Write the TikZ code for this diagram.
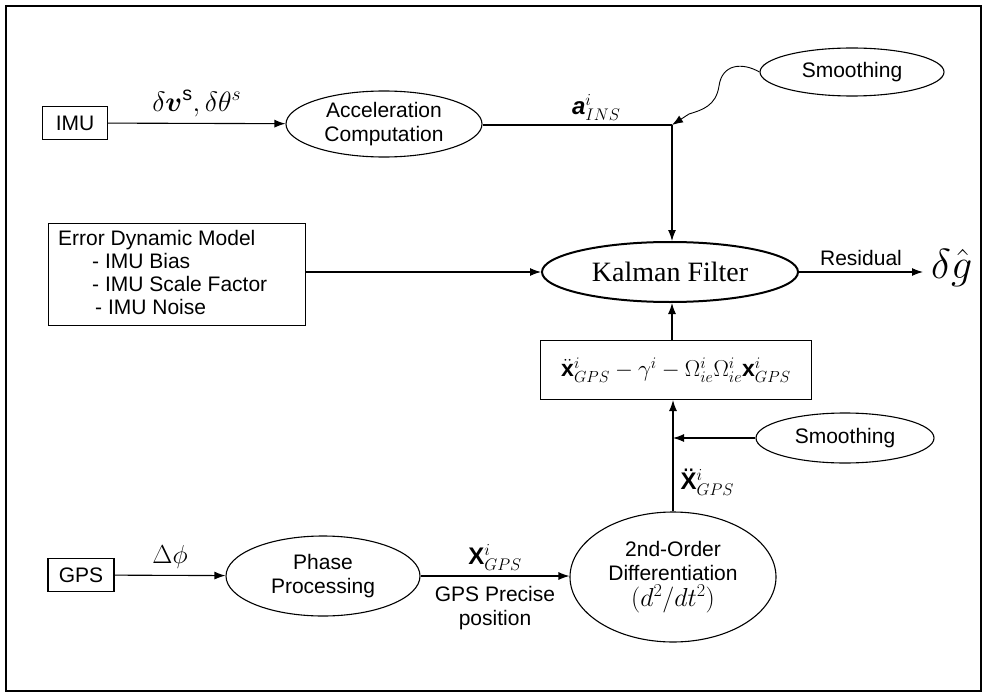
\RequirePackage{fix-cm}
\documentclass[tikz,border=0pt]{standalone}
\usepackage{fontspec}
\setmainfont{Liberation Sans}
\newfontfamily\tms{Liberation Serif}
\usepackage{bm}
\usetikzlibrary{arrows.meta,shapes.geometric}
\begin{document}
\begin{tikzpicture}[x=1pt,y=-1pt,
  every node/.style={font=\fontsize{21}{24}\selectfont},
  box/.style={draw, line width=1.1pt, inner sep=0pt},
  ell/.style={draw, ellipse, line width=1.1pt, inner sep=0pt, align=center},
  arr/.style={-{Latex[length=11pt,width=8pt]}, line width=1.1pt},
  ln/.style={line width=1.1pt},
  mlbl/.style={font=\fontsize{28}{30}\selectfont},
  vlbl/.style={font=\fontsize{24}{26}\selectfont}]
\useasboundingbox (0,0) rectangle (984,695);
\draw[line width=1.4pt] (6,6) rectangle (981,691);

% top row
\node[box, minimum width=65pt, minimum height=33pt] (imu) at (75,123) {IMU};
\node[ell, minimum width=196pt, minimum height=66pt] (acc) at (384,124) {Acceleration\\Computation};
\coordinate (jn) at (672,125);
\node[ell, minimum width=184pt, minimum height=48pt] (sm1) at (852,72) {Smoothing};
\draw[arr] (imu) -- (acc) node[midway, above=3pt, mlbl] {$\delta\bm{v}^{\mathrm{s}},\delta\theta^{s}$};
\draw[ln] (acc.east |- jn) -- (jn) node[pos=0.6, above=1pt, vlbl] {{\bfseries\itshape a}$^{i}_{INS}$};
\draw[arr, line width=0.9pt] (sm1.west) .. controls (742,62) and (722,64) .. (719,86)
  .. controls (716,106) and (702,110) .. (689,114) -- (jn);

% Kalman filter
\node[ell, line width=2pt, minimum width=256pt, minimum height=60pt, font=\tms\fontsize{28}{30}\selectfont] (kf) at (670,272) {Kalman Filter};
\draw[arr] (jn) -- (jn |- kf.north);

% error model
\node[box, minimum width=257pt, minimum height=102pt, anchor=north west] (edm) at (48,223) {};
\node[anchor=base west, inner sep=0pt] (e1) at (58,245) {Error Dynamic Model};
\node[anchor=base west, inner sep=0pt] (e2) at (92,268) {- IMU Bias};
\node[anchor=base west, inner sep=0pt] (e3) at (92,291) {- IMU Scale Factor};
\node[anchor=base west, inner sep=0pt] (e4) at (95,314) {- IMU Noise};
\draw[arr] (edm.east |- kf) -- (kf.west);

% output
\node[anchor=west, inner xsep=8pt, inner ysep=0pt, font=\fontsize{42}{44}\selectfont] (dg) at (923,268) {$\delta\hat{g}$};
\draw[arr] (kf.east) -- (kf.east -| dg.west) node[midway, above=2pt] {Residual};

% equation box
\node[box, minimum width=271pt, minimum height=59pt, font=\fontsize{23}{25}\selectfont] (eq) at (676,370)
  {$\ddot{\mathbf{x}}^{i}_{GPS}-\gamma^{i}-\Omega^{i}_{ie}\Omega^{i}_{ie}\mathbf{x}^{i}_{GPS}$};
\draw[arr] (eq.north -| jn) -- (jn |- kf.south);

% lower right
\node[ell, minimum width=178pt, minimum height=50pt] (sm2) at (845,438) {Smoothing};
\node[ell, minimum width=206pt, minimum height=130pt] (diff) at (673,577)
  {2nd-Order\\Differentiation\\[2pt]{\fontsize{26}{28}\selectfont$(d^{2}/dt^{2})$}};
\draw[arr] (diff.north) -- (diff.north |- eq.south);
\coordinate (jn2) at (diff.north |- sm2);
\draw[arr] (sm2.west) -- (jn2);
\node[anchor=west, vlbl] (xdd) at (677,482) {{\bfseries\"X}$^{i}_{GPS}$};

% bottom row
\node[box, minimum width=66pt, minimum height=33pt] (gps) at (81,575) {GPS};
\node[ell, minimum width=194pt, minimum height=80pt] (ph) at (323,576) {Phase\\Processing};
\draw[arr] (gps) -- (ph) node[midway, above=3pt, font=\fontsize{26}{28}\selectfont] {$\Delta\phi$};
\draw[arr] (ph.east) -- (diff.west |- ph.east) node[midway, above=2pt, vlbl] {{\bfseries X}$^{i}_{GPS}$}
  node[midway, below=6pt, align=center] {GPS Precise\\position};
\end{tikzpicture}
\end{document}
